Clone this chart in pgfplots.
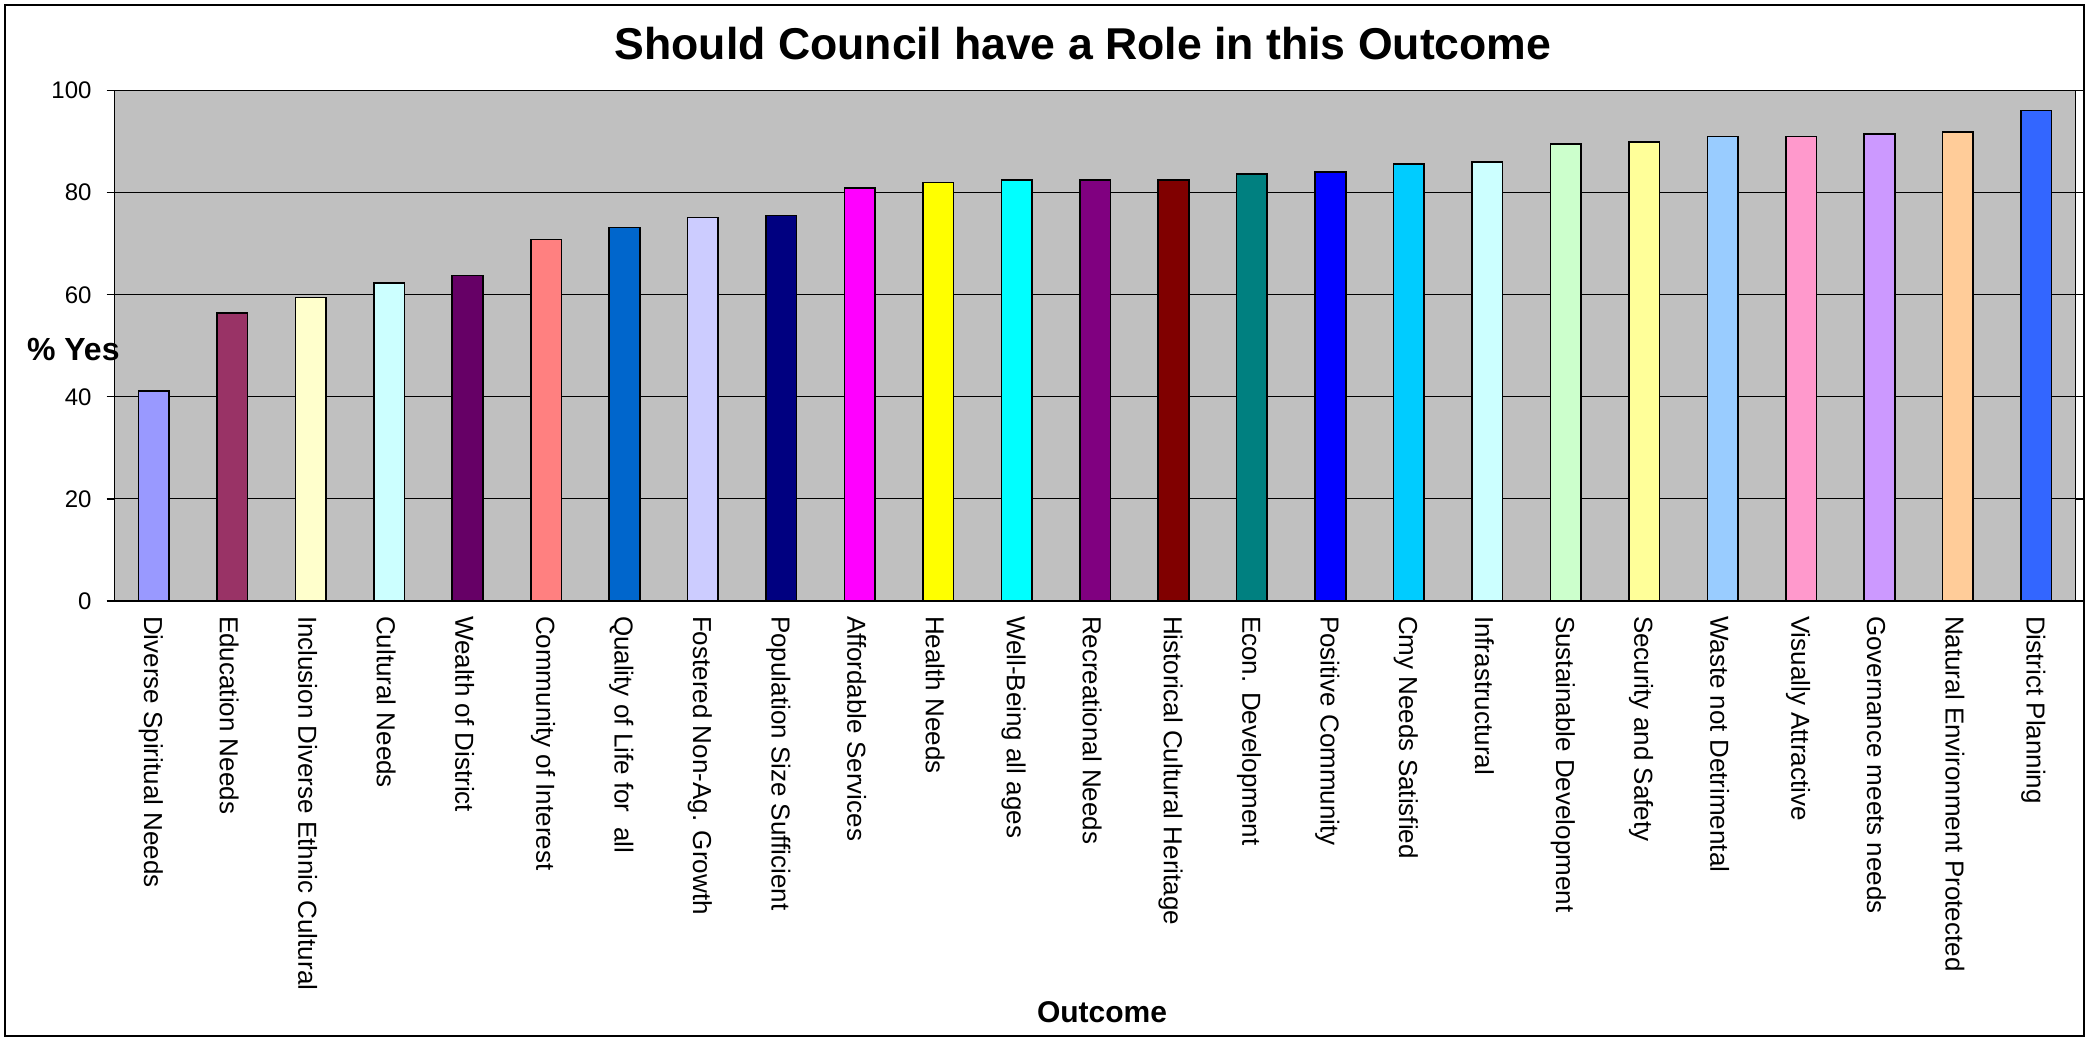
\documentclass[border=0pt]{standalone}
\usepackage{fontspec}
\setmainfont{Liberation Sans}
\usepackage{pgfplots}
\pgfplotsset{compat=1.18}
\definecolor{plotgray}{HTML}{C0C0C0}
\definecolor{c1}{HTML}{9999FF}
\definecolor{c2}{HTML}{993366}
\definecolor{c3}{HTML}{FFFFCC}
\definecolor{c4}{HTML}{CCFFFF}
\definecolor{c5}{HTML}{660066}
\definecolor{c6}{HTML}{FF8080}
\definecolor{c7}{HTML}{0066CC}
\definecolor{c8}{HTML}{CCCCFF}
\definecolor{c9}{HTML}{000080}
\definecolor{c10}{HTML}{FF00FF}
\definecolor{c11}{HTML}{FFFF00}
\definecolor{c12}{HTML}{00FFFF}
\definecolor{c13}{HTML}{800080}
\definecolor{c14}{HTML}{800000}
\definecolor{c15}{HTML}{008080}
\definecolor{c16}{HTML}{0000FF}
\definecolor{c17}{HTML}{00CCFF}
\definecolor{c18}{HTML}{CCFFFF}
\definecolor{c19}{HTML}{CCFFCC}
\definecolor{c20}{HTML}{FFFF99}
\definecolor{c21}{HTML}{99CCFF}
\definecolor{c22}{HTML}{FF99CC}
\definecolor{c23}{HTML}{CC99FF}
\definecolor{c24}{HTML}{FFCC99}
\definecolor{c25}{HTML}{3366FF}
\begin{document}
\begin{tikzpicture}
\path[use as bounding box] (0pt,0pt) rectangle (1044.5pt,520.5pt);
\draw[black, line width=0.8pt] (2.5pt,2.5pt) rectangle (1042pt,518pt);
\begin{axis}[
  at={(57.3pt,220pt)}, anchor=south west,
  scale only axis, width=980.5pt, height=255.2pt,
  xmin=-0.5, xmax=24.5, ymin=0, ymax=100,
  axis background/.style={fill=plotgray},
  axis line style={black, line width=0.6pt},
  ybar, bar width=15.3pt,
  every axis plot/.append style={bar shift=0pt, bar width=15.3pt, draw=black, line width=0.8pt},
  ymajorgrids, grid style={black, line width=0.5pt},
  ytick={0,20,40,60,80,100},
  xtick={0,...,24},
  xticklabels={Diverse Spiritual Needs, Education Needs, Inclusion Diverse Ethnic Cultural, Cultural Needs, Wealth of District, Community of Interest, Quality of Life for\ \ all, Fostered Non-Ag. Growth, Population Size Sufficient, Affordable Services, Health Needs, Well-Being all ages, Recreational Needs, Historical Cultural Heritage, Econ. Development, Positive Community, Cmy Needs Satisfied, Infrastructural, Sustainable Development, Security and Safety, Waste not Detrimental, Visually Attractive, Governance meets needs, Natural Environment Protected, District Planning},
  tick align=outside,
  x tick style={draw=none},
  y tick style={black, line width=0.6pt},
  major tick length=4pt,
  /pgf/number format/assume math mode=true,
  yticklabel style={font=\fontsize{12}{14}\selectfont, xshift=-4pt},
  xticklabel style={rotate=-90, anchor=west, font=\fontsize{13}{15}\selectfont, yshift=-1.5pt},
]
\addplot[fill=c1] coordinates {(0,41.2)};
\addplot[fill=c2] coordinates {(1,56.4)};
\addplot[fill=c3] coordinates {(2,59.5)};
\addplot[fill=c4] coordinates {(3,62.3)};
\addplot[fill=c5] coordinates {(4,63.8)};
\addplot[fill=c6] coordinates {(5,70.8)};
\addplot[fill=c7] coordinates {(6,73.2)};
\addplot[fill=c8] coordinates {(7,75.1)};
\addplot[fill=c9] coordinates {(8,75.5)};
\addplot[fill=c10] coordinates {(9,80.9)};
\addplot[fill=c11] coordinates {(10,82.0)};
\addplot[fill=c12] coordinates {(11,82.5)};
\addplot[fill=c13] coordinates {(12,82.5)};
\addplot[fill=c14] coordinates {(13,82.5)};
\addplot[fill=c15] coordinates {(14,83.7)};
\addplot[fill=c16] coordinates {(15,84.1)};
\addplot[fill=c17] coordinates {(16,85.6)};
\addplot[fill=c18] coordinates {(17,86.0)};
\addplot[fill=c19] coordinates {(18,89.5)};
\addplot[fill=c20] coordinates {(19,89.9)};
\addplot[fill=c21] coordinates {(20,91.0)};
\addplot[fill=c22] coordinates {(21,91.0)};
\addplot[fill=c23] coordinates {(22,91.5)};
\addplot[fill=c24] coordinates {(23,91.9)};
\addplot[fill=c25] coordinates {(24,96.1)};
\end{axis}
\node[font=\bfseries\fontsize{22.3}{26}\selectfont] at (541.5pt,498.5pt) {Should Council have a Role in this Outcome};
\node[anchor=west, font=\bfseries\fontsize{16}{19}\selectfont] at (10pt,345.5pt) {\% Yes};
\node[font=\bfseries\fontsize{15}{18}\selectfont] at (551pt,14.2pt) {Outcome};
\end{tikzpicture}
\end{document}
